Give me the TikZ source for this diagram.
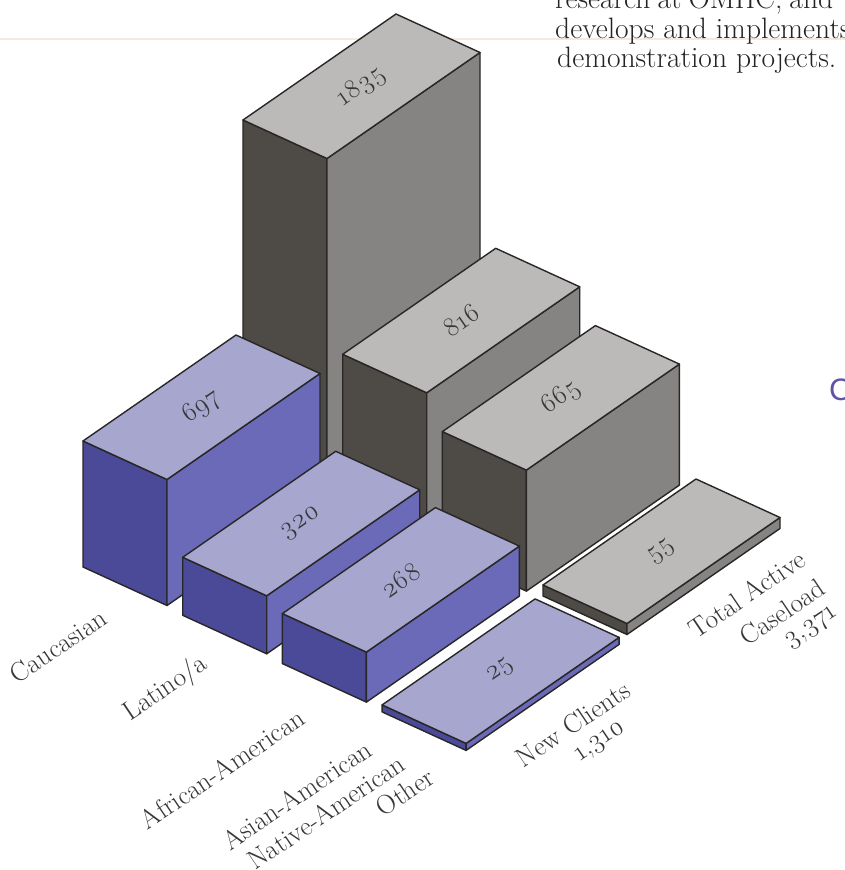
\documentclass[tikz,border=0pt]{standalone}
\usepackage{fontspec}
\setmainfont{Latin Modern Roman}
\newfontfamily\numfont{Latin Modern Roman}[Numbers=OldStyle]
\newfontfamily\headfont{Liberation Sans}
\usetikzlibrary{calc}
\definecolor{gtop}{RGB}{188,186,185}
\definecolor{gleft}{RGB}{78,74,70}
\definecolor{gright}{RGB}{134,132,130}
\definecolor{btop}{RGB}{166,166,207}
\definecolor{bleft}{RGB}{74,74,152}
\definecolor{bright}{RGB}{106,106,184}
\definecolor{edgec}{RGB}{40,38,38}
\definecolor{txt}{RGB}{55,55,55}
\definecolor{ptxt}{RGB}{35,35,35}
\definecolor{headc}{RGB}{96,82,165}
\definecolor{rulec}{RGB}{244,234,218}
\tikzset{
  face/.style={draw=edgec, line width=1.4pt, line join=round},
  barnum/.style={text=txt, font=\numfont\fontsize{27}{30}\selectfont, rotate=34.7, inner sep=0pt},
  axislabel/.style={text=txt, font=\numfont\fontsize{27}{30}\selectfont, rotate=34, inner sep=0pt},
  para/.style={text=ptxt, font=\fontsize{29.5}{32}\selectfont, anchor=base west, inner sep=0pt},
}
% #1 name, #2 x, #3 y (base-left corner, pixels), #4 height, #5 colour prefix, #6 value
\newcommand{\isobar}[6]{%
  \begin{scope}[shift={(#2,#3)}]
    \filldraw[face, fill=#5left] (0,0) -- (84,38.5) -- (84,{38.5-#4}) -- (0,{-#4}) -- cycle;
    \filldraw[face, fill=#5right] (84,38.5) -- (237,-67.5) -- (237,{-67.5-#4}) -- (84,{38.5-#4}) -- cycle;
    \filldraw[face, fill=#5top] (0,{-#4}) -- (84,{38.5-#4}) -- (237,{-67.5-#4}) -- (153,{-106-#4}) -- cycle;
    \node[barnum] (#1) at (118.5,{-33.75-#4}) {#6};
  \end{scope}}
\begin{document}
\begin{tikzpicture}[x=1pt,y=-1pt]
  \useasboundingbox (0,0) rectangle (845,870);
  \clip (0,0) rectangle (845,870);
  % faint rule of the page
  \draw[rulec, line width=1.5pt] (0,39) -- (845,39);
  % paragraph text
  \node[para] (p1) at (555,9) {\makebox[278pt][s]{research at OMHC, and}};
  \node[para] (p2) at (555,38) {develops and implements};
  \node[para] (p3) at (557,67) {demonstration projects.};
  \node[text=headc, font=\headfont\fontsize{31}{34}\selectfont, anchor=base west, inner sep=0pt] (hc) at (829,400) {C};
  % back row: total active caseload
  \isobar{g1}{243}{456}{336}{g}{1835}
  \isobar{g2}{342.7}{504.3}{150}{g}{816}
  \isobar{g3}{442.4}{552.6}{121}{g}{665}
  \isobar{g4}{543}{596}{11}{g}{55}
  % front row: new clients
  \isobar{b1}{83}{567}{126}{b}{697}
  \isobar{b2}{182.7}{615.3}{58}{b}{320}
  \isobar{b3}{282.4}{663.6}{50}{b}{268}
  \isobar{b4}{382.1}{711.9}{7}{b}{25}
  % category labels
  \node[axislabel] (lcau) at (58,646) {Caucasian};
  \node[axislabel] (llat) at (166,689) {Latino/a};
  \node[axislabel] (lafr) at (222,769) {African-American};
  \node[axislabel] (lasi) at (297,795) {Asian-American};
  \node[axislabel] (lnat) at (326,812) {Native-American};
  \node[axislabel] (loth) at (405,792) {Other};
  % series labels
  \node[axislabel] (lnew) at (573,724) {New Clients};
  \node[axislabel] (lnewn) at (601,743) {1,310};
  \node[axislabel] (ltot) at (747,594) {Total Active};
  \node[axislabel] (lcase) at (782,612) {Caseload};
  \node[axislabel] (ltotn) at (812,628) {3,371};
\end{tikzpicture}
\end{document}
